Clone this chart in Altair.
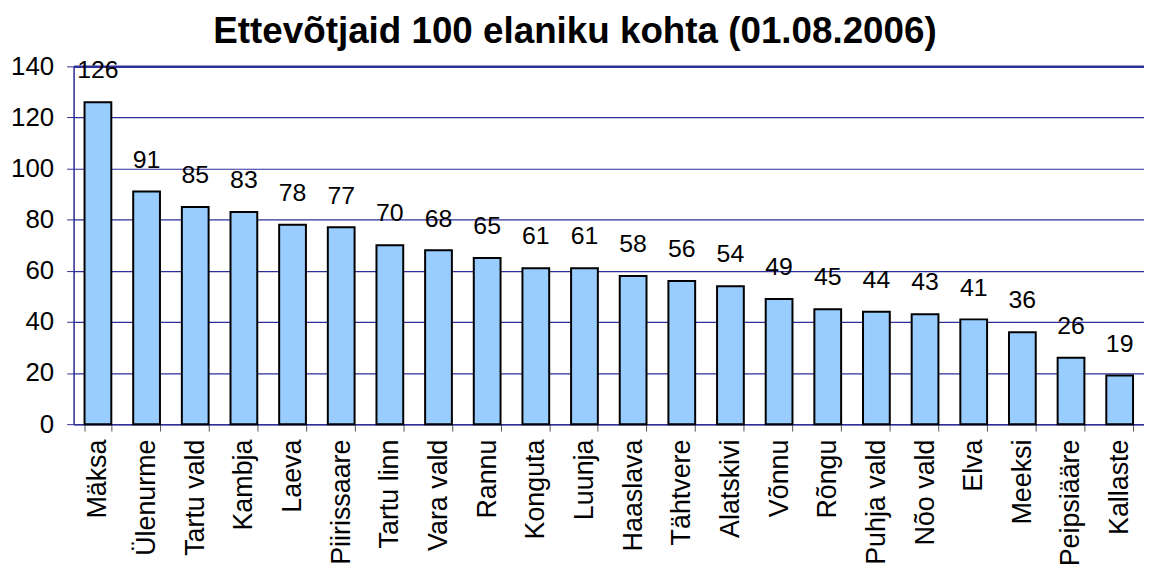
import altair as alt
import pandas as pd

places = ["Mäksa", "Ülenurme", "Tartu vald", "Kambja", "Laeva", "Piirissaare",
          "Tartu linn", "Vara vald", "Rannu", "Konguta", "Luunja", "Haaslava",
          "Tähtvere", "Alatskivi", "Võnnu", "Rõngu", "Puhja vald", "Nõo vald",
          "Elva", "Meeksi", "Peipsiääre", "Kallaste"]
values = [126, 91, 85, 83, 78, 77, 70, 68, 65, 61, 61, 58, 56, 54, 49, 45, 44, 43, 41, 36, 26, 19]
y_ticks = [0, 20, 40, 60, 80, 100, 120, 140]

df = pd.DataFrame({"place": places, "value": values})

FONT = "Liberation Sans"
NAVY = "#2f2f9a"

x_enc = alt.X("place:N", sort=places,
              scale=alt.Scale(paddingInner=0.45, paddingOuter=0.225),
              axis=alt.Axis(title=None, labelAngle=270, labelAlign="right", labelBaseline="middle",
                            labelFontSize=27, labelFont=FONT, labelColor="black",
                            labelPadding=8, tickBand="extent", tickSize=7, tickColor="#555555",
                            domainColor=NAVY, domainWidth=1.5, grid=False))
y_enc = alt.Y("value:Q",
              scale=alt.Scale(domain=[0, 140], nice=False),
              axis=alt.Axis(title=None, values=y_ticks, labelFontSize=26, labelFont=FONT,
                            labelColor="black", labelPadding=13, tickSize=7, tickColor=NAVY,
                            domainColor=NAVY, domainWidth=1.5, gridColor=NAVY,
                            gridWidth=alt.condition(alt.datum.value == 140, alt.value(2.5), alt.value(1.2)),
                            gridOpacity=1))

bars = alt.Chart(df).mark_bar(color="#99CCFF", stroke="black", strokeWidth=2).encode(x=x_enc, y=y_enc)
labels = alt.Chart(df).mark_text(fontSize=25, font=FONT, color="black", baseline="alphabetic", dy=-24).encode(
    x=alt.X("place:N", sort=places), y=alt.Y("value:Q"), text=alt.Text("value:Q"))

chart = (bars + labels).properties(
    width=1077, height=360,
    autosize=alt.AutoSizeParams(type="none"),
    padding={"left": 66, "top": 57, "right": 0, "bottom": 140},
    title=alt.TitleParams("Ettevõtjaid 100 elaniku kohta (01.08.2006)", fontSize=37, font=FONT,
                          fontWeight="bold", color="black", anchor="middle", dx=-34, offset=3),
).configure_view(stroke="#d0d0d0", strokeWidth=1)

chart.save("out.html", embed_options={"renderer": "svg", "actions": False})
